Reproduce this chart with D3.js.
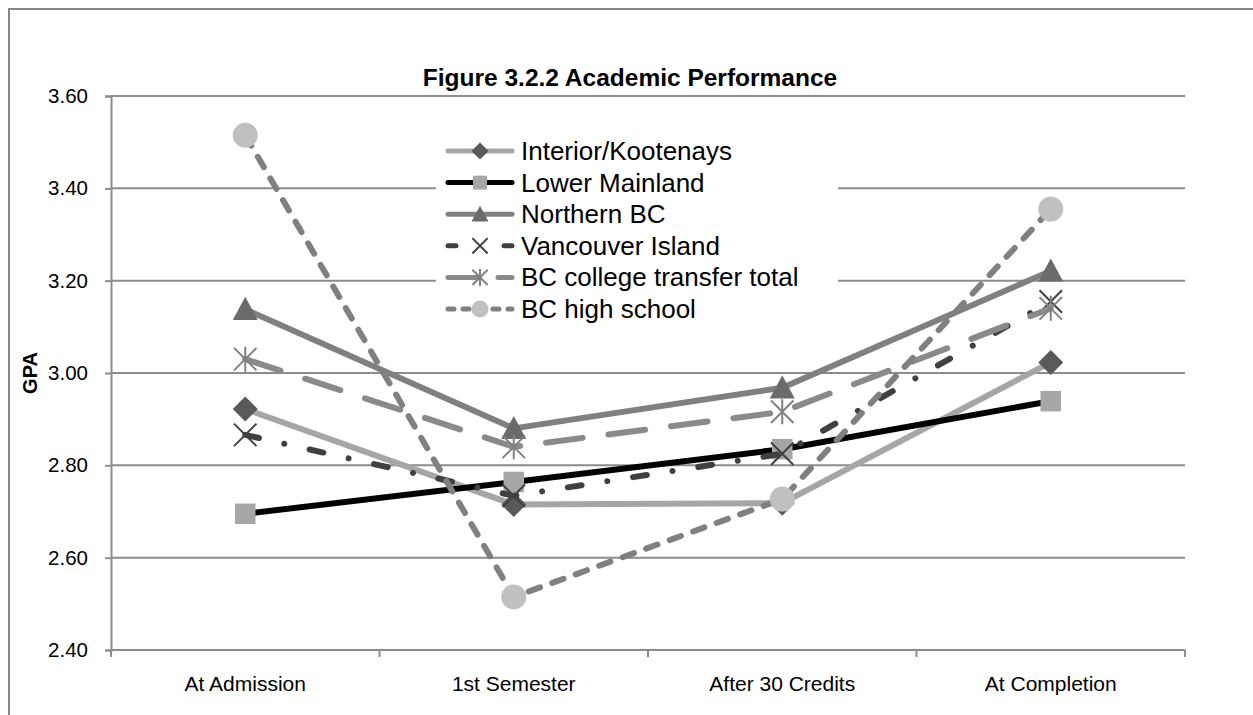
<!DOCTYPE html>
<html>
<head>
<meta charset="utf-8">
<script src="https://cdn.jsdelivr.net/npm/d3@7"></script>
<style>
  html, body { margin: 0; padding: 0; background: #fff; }
  svg { display: block; font-family: Arial, "Liberation Sans", sans-serif; }
</style>
</head>
<body>
<svg id="chart" width="1253" height="715"></svg>
<script>
// data
var categories = ["At Admission", "1st Semester", "After 30 Credits", "At Completion"];
var interiorKootenays = [2.922, 2.715, 2.718, 3.023];
var lowerMainland = [2.695, 2.764, 2.835, 2.939];
var northernBC = [3.138, 2.880, 2.968, 3.221];
var vancouverIsland = [2.866, 2.734, 2.825, 3.155];
var collegeTransfer = [3.030, 2.840, 2.916, 3.140];
var highSchool = [3.515, 2.515, 2.727, 3.355];
var yTicks = [2.40, 2.60, 2.80, 3.00, 3.20, 3.40, 3.60];

var series = [
  {name: "Interior/Kootenays", values: interiorKootenays, stroke: "#a6a6a6", dash: null, legDash: null, marker: "diamond", mcolor: "#595959"},
  {name: "Lower Mainland", values: lowerMainland, stroke: "#000000", dash: null, legDash: null, marker: "square", mcolor: "#a6a6a6"},
  {name: "Northern BC", values: northernBC, stroke: "#808080", dash: null, legDash: null, marker: "triangle", mcolor: "#6b6b6b"},
  {name: "Vancouver Island", values: vancouverIsland, stroke: "#404040", dash: "14,26,0.01,26", legDash: "8,48", marker: "x", mcolor: "#404040"},
  {name: "BC college transfer total", values: collegeTransfer, stroke: "#8a8a8a", dash: "37,26", legDash: "30,20", marker: "star", mcolor: "#808080"},
  {name: "BC high school", values: highSchool, stroke: "#808080", dash: "12,13", legDash: "6,9", marker: "circle", mcolor: "#c0c0c0"}
];

var svg = d3.select("#chart");
var gridColor = "#8c8c8c";
var plot = {left: 111, right: 1185, top: 96, bottom: 650};

// outer chart border (cropped on right and bottom)
svg.append("path").attr("d", "M9,716 L9,9 L1260,9").attr("fill", "none").attr("stroke", "#878787").attr("stroke-width", 2);

// title
svg.append("text").attr("x", 630).attr("y", 86).attr("text-anchor", "middle")
  .style("font-weight", "bold").style("font-size", "24.5px").text("Figure 3.2.2 Academic Performance");

var x = d3.scaleBand().domain(categories).range([plot.left, plot.right]);
var y = d3.scaleLinear().domain([2.40, 3.60]).range([plot.bottom, plot.top]);

// gridlines
svg.append("g").selectAll("line").data(yTicks.slice(1)).join("line")
  .attr("x1", plot.left).attr("x2", plot.right)
  .attr("y1", d => y(d)).attr("y2", d => y(d))
  .attr("stroke", gridColor).attr("stroke-width", 2);

// y axis
var yAxis = svg.append("g").attr("transform", `translate(${plot.left},0)`)
  .call(d3.axisLeft(y).tickValues(yTicks).tickFormat(d3.format(".2f")).tickSize(6).tickPadding(17));
yAxis.select(".domain").attr("stroke", gridColor).attr("stroke-width", 2);
yAxis.selectAll(".tick line").attr("stroke", gridColor).attr("stroke-width", 2);
yAxis.selectAll(".tick text").style("font-size", "20.5px").attr("fill", "#000").attr("font-family", "Arial, 'Liberation Sans', sans-serif");

// x axis
var xAxis = svg.append("g").attr("transform", `translate(0,${plot.bottom})`)
  .call(d3.axisBottom(x).tickSize(0).tickPadding(26));
xAxis.select(".domain").attr("stroke", gridColor).attr("stroke-width", 2).attr("d", `M${plot.left},0H${plot.right}`);
xAxis.selectAll(".tick text").style("font-size", "21px").attr("fill", "#000").attr("font-family", "Arial, 'Liberation Sans', sans-serif");
xAxis.selectAll(".bound").data(categories.map(c => x(c)).concat([plot.right])).join("line")
  .attr("class", "bound").attr("x1", d => d).attr("x2", d => d).attr("y1", 0).attr("y2", 7)
  .attr("stroke", gridColor).attr("stroke-width", 2);

// y axis title
svg.append("text").attr("transform", "translate(37,373) rotate(-90)").attr("text-anchor", "middle")
  .style("font-weight", "bold").style("font-size", "20px").text("GPA");

function drawMarker(g, type, cx, cy, s, color) {
  var h = s / 2;
  if (type === "diamond") {
    g.append("path").attr("d", `M${cx},${cy - h}L${cx + h},${cy}L${cx},${cy + h}L${cx - h},${cy}Z`).attr("fill", color);
  } else if (type === "square") {
    var q = h * 0.82;
    g.append("rect").attr("x", cx - q).attr("y", cy - q).attr("width", 2 * q).attr("height", 2 * q).attr("fill", color);
  } else if (type === "triangle") {
    g.append("path").attr("d", `M${cx},${cy - h}L${cx + h},${cy + h * 0.85}L${cx - h},${cy + h * 0.85}Z`).attr("fill", color);
  } else if (type === "circle") {
    g.append("circle").attr("cx", cx).attr("cy", cy).attr("r", h).attr("fill", color);
  } else if (type === "x") {
    var a = h * 0.9;
    g.append("path").attr("d", `M${cx - a},${cy - a}L${cx + a},${cy + a}M${cx - a},${cy + a}L${cx + a},${cy - a}`)
      .attr("stroke", color).attr("stroke-width", 2).attr("fill", "none");
  } else if (type === "star") {
    var b = h * 0.9;
    g.append("path").attr("d", `M${cx - b},${cy - b}L${cx + b},${cy + b}M${cx - b},${cy + b}L${cx + b},${cy - b}M${cx},${cy - h}L${cx},${cy + h}`)
      .attr("stroke", color).attr("stroke-width", 2).attr("fill", "none");
  }
}

var line = d3.line().x((d, i) => x(categories[i]) + x.bandwidth() / 2).y(d => y(d));

// legend box (white, covers gridlines)
var legend = {x: 440, y: 134, row: 31.6};
svg.append("rect").attr("x", legend.x - 4).attr("y", legend.y).attr("width", 402).attr("height", 192).attr("fill", "#fff");

series.forEach(function(s) {
  var g = svg.append("g");
  g.append("path").datum(s.values).attr("d", line).attr("fill", "none")
    .attr("stroke", s.stroke).attr("stroke-width", 6).attr("stroke-linecap", "round").attr("stroke-linejoin", "round")
    .attr("stroke-dasharray", s.dash);
  s.values.forEach(function(v, i) {
    drawMarker(g, s.marker, x(categories[i]) + x.bandwidth() / 2, y(v), 25, s.mcolor);
  });
});

series.forEach(function(s, i) {
  var cy = legend.y + 17 + i * legend.row;
  var g = svg.append("g");
  g.append("line").attr("x1", legend.x + 8).attr("x2", legend.x + 72).attr("y1", cy).attr("y2", cy)
    .attr("stroke", s.stroke).attr("stroke-width", 5).attr("stroke-linecap", "round")
    .attr("stroke-dasharray", s.legDash);
  drawMarker(g, s.marker, legend.x + 40, cy, 17, s.mcolor);
  g.append("text").attr("x", legend.x + 81).attr("y", cy + 9).style("font-size", "26px").text(s.name);
});
</script>
</body>
</html>
